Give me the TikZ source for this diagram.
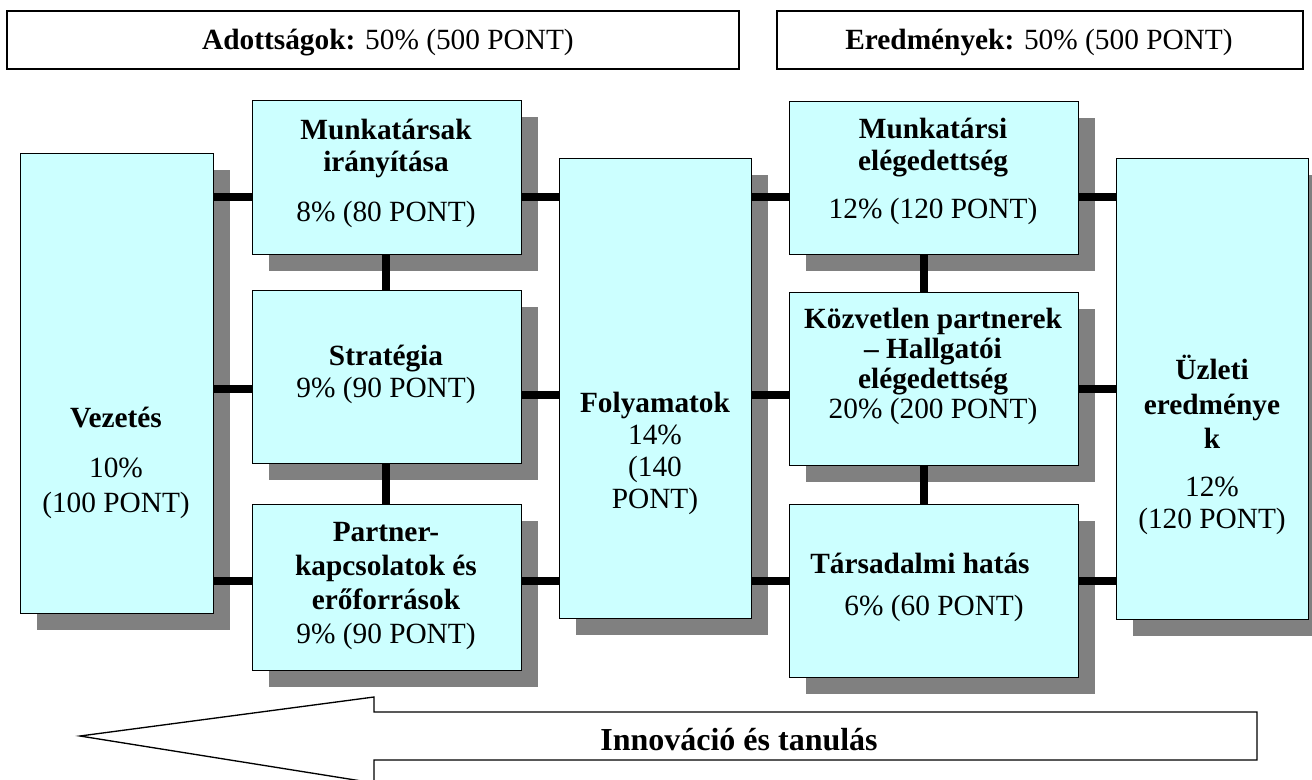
\documentclass[tikz,border=0pt]{standalone}
\usepackage{fontspec}
\setmainfont{Liberation Serif}
\usetikzlibrary{shadows}
\definecolor{boxfill}{HTML}{CCFFFF}
\definecolor{shgray}{HTML}{808080}
\begin{document}
\begin{tikzpicture}[x=0.75pt,y=-0.75pt,
  box/.style={draw=black, line width=1pt, fill=boxfill, inner sep=0pt, anchor=north west,
    general shadow={fill=shgray, shadow xshift=12pt, shadow yshift=-12pt}},
  topbox/.style={draw=black, line width=1.5pt, fill=white, inner sep=0pt, anchor=north west},
  sz/.style 2 args={minimum width=#1*0.75pt, minimum height=#2*0.75pt},
  conn/.style={line width=5.5pt, black},
  txt/.style={font=\fontsize{22}{24}\selectfont, align=center, anchor=base, inner sep=0pt},
  bigtxt/.style={txt, font=\fontsize{24}{26}\selectfont},
  arrowshape/.style={draw=black, line width=1pt, fill=white, line join=miter},
]
\useasboundingbox (0,0) rectangle (1312,780);

% top header boxes
\node[topbox, sz={732}{58}] (adt) at (6,10) {};
\node[topbox, sz={526}{58}] (ere) at (776,10) {};
\node[txt] (adtT) at (388,50) {\textbf{Adottságok:} 50\% (500 PONT)};
\node[txt] (ereT) at (1039,50) {\textbf{Eredmények:} 50\% (500 PONT)};

% main boxes
\node[box, sz={193}{460}] (vez) at (20,153) {};
\node[box, sz={269}{154}] (mu)  at (252,100) {};
\node[box, sz={269}{173}] (str) at (252,290) {};
\node[box, sz={269}{166}] (par) at (252,504) {};
\node[box, sz={192}{460}] (fol) at (559,158) {};
\node[box, sz={289}{153}] (mel) at (789,101) {};
\node[box, sz={289}{173}] (koz) at (789,292) {};
\node[box, sz={289}{173}] (tar) at (789,504) {};
\node[box, sz={192}{461}] (uzl) at (1116,158) {};

% connector rows / columns
\coordinate (r1) at (0,197);
\coordinate (r2a) at (0,389);
\coordinate (r2b) at (0,395);
\coordinate (r3) at (0,581);
\coordinate (c1) at (386,0);
\coordinate (c2) at (924,0);

\draw[conn] (vez.east |- r1) -- (mu.west |- r1);
\draw[conn] (vez.east |- r2a) -- (str.west |- r2a);
\draw[conn] (vez.east |- r3) -- (par.west |- r3);
\draw[conn] (mu.south -| c1) -- (str.north -| c1);
\draw[conn] (str.south -| c1) -- (par.north -| c1);
\draw[conn] (mu.east |- r1) -- (fol.west |- r1);
\draw[conn] (str.east |- r2b) -- (fol.west |- r2b);
\draw[conn] (par.east |- r3) -- (fol.west |- r3);
\draw[conn] (fol.east |- r1) -- (mel.west |- r1);
\draw[conn] (fol.east |- r2b) -- (koz.west |- r2b);
\draw[conn] (fol.east |- r3) -- (tar.west |- r3);
\draw[conn] (mel.south -| c2) -- (koz.north -| c2);
\draw[conn] (koz.south -| c2) -- (tar.north -| c2);
\draw[conn] (mel.east |- r1) -- (uzl.west |- r1);
\draw[conn] (koz.east |- r2a) -- (uzl.west |- r2a);
\draw[conn] (tar.east |- r3) -- (uzl.west |- r3);

% box texts (anchored at the baseline of their last line)
\node[txt] (vezT) at (116,512) {\textbf{Vezetés}\\[13.5pt] 10\%\\[2pt] (100 PONT)};
\node[txt] (muT) at (386,222) {\textbf{Munkatársak}\\ \textbf{irányítása}\\[13.5pt] 8\% (80 PONT)};
\node[txt] (strT) at (386,397) {\textbf{Stratégia}\\ 9\% (90 PONT)};
\node[txt] (parT) at (386,643) {\textbf{Partner-}\\[1.5pt] \textbf{kapcsolatok és}\\[1.5pt] \textbf{erőforrások}\\[1.5pt] 9\% (90 PONT)};
\node[txt] (folT) at (655,508) {\textbf{Folyamatok}\\ 14\%\\ (140\\ PONT)};
\node[txt] (melT) at (933,219) {\textbf{Munkatársi}\\ \textbf{elégedettség}\\[12pt] 12\% (120 PONT)};
\node[txt] (kozT) at (933,418) {\textbf{Közvetlen partnerek}\\[-1.5pt] \textbf{– Hallgatói}\\[-1.5pt] \textbf{elégedettség}\\[-1.5pt] 20\% (200 PONT)};
\node[txt] (tarT1) at (920,573) {\textbf{Társadalmi hatás}};
\node[txt] (tarT2) at (934,615) {6\% (60 PONT)};
\node[txt] (uzlT) at (1212,528) {\textbf{Üzleti}\\[2pt] \textbf{eredménye}\\[1.5pt] \textbf{k}\\[12pt] 12\%\\ (120 PONT)};

% innovation arrow
\draw[arrowshape] (1257,712) -- (374,712) -- (374,697) -- (80,736) -- (374,783) -- (374,760) -- (1257,760) -- cycle;
\node[bigtxt] (innT) at (739,750) {\textbf{Innováció és tanulás}};
\end{tikzpicture}
\end{document}
